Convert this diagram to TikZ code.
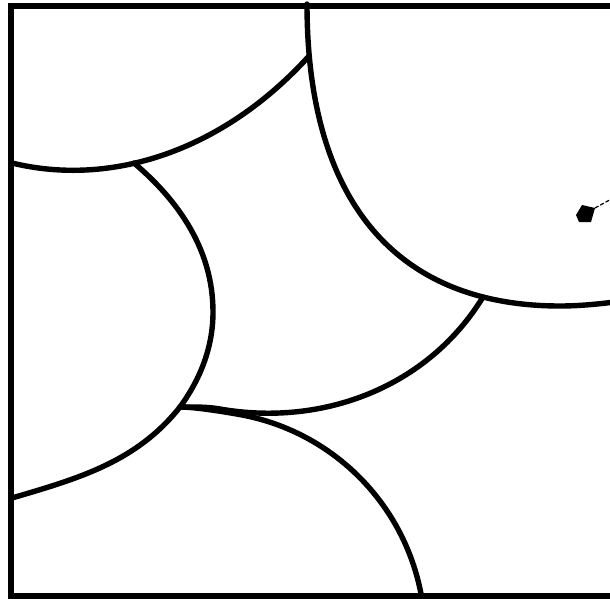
\documentclass[tikz,border=0pt]{standalone}
\begin{document}
\begin{tikzpicture}[x=0.5pt,y=-0.5pt,
  curve/.style={line width=2.7pt, line join=round, line cap=round},
  frameline/.style={line width=3.4pt},
  leader/.style={line width=0.6pt, dash pattern=on 2pt off 1pt}]
\useasboundingbox (0,0) rectangle (610,599);
\clip (0,0) rectangle (610,599);
% frame
\draw[frameline] (11,6) rectangle (660,596);
% junctions and end points
\coordinate (T0) at (307,4);
\coordinate (J1) at (309,56);
\coordinate (J2) at (134,163);
\coordinate (M)  at (213,312);
\coordinate (J3) at (180,407);
\coordinate (J4) at (483,297);
\coordinate (BT) at (560,306);
\coordinate (L1) at (12,163);
\coordinate (L2) at (12,498);
\coordinate (R1) at (615,302);
\coordinate (K)  at (220,409);
\coordinate (BS) at (240,414.6);
% top-left arc
\draw[curve] (L1) .. controls (110,187) and (222,152) .. (J1);
% top-right arc
\draw[curve] (T0) .. controls (307,201) and (396,306) .. (BT)
             .. controls (580,306) and (598,304) .. (R1);
% left-middle arc
\draw[curve] (J2) .. controls (180,202) and (213,251) .. (M)
             .. controls (213,347) and (200.6,378.7) .. (J3)
             .. controls (136.6,461.6) and (80,478) .. (L2);
% middle-bottom arc
\draw[curve] (J4) .. controls (428,387) and (323,427) .. (K)
             .. controls (207,406.7) and (195,407) .. (J3);
% bottom arc
\draw[curve] (J3) .. controls (195,407) and (225.2,411.9) .. (BS)
             -- plot[domain=-79.76:-9.5, samples=50, variable=\t] ({200+225*cos(\t)},{636+225*sin(\t)});
% small mark
\fill (576,215) -- (582,205) -- (595,208) -- (591,222) -- (579,222) -- cycle;
\draw[leader] (595,208) -- (615,197);
\end{tikzpicture}
\end{document}
